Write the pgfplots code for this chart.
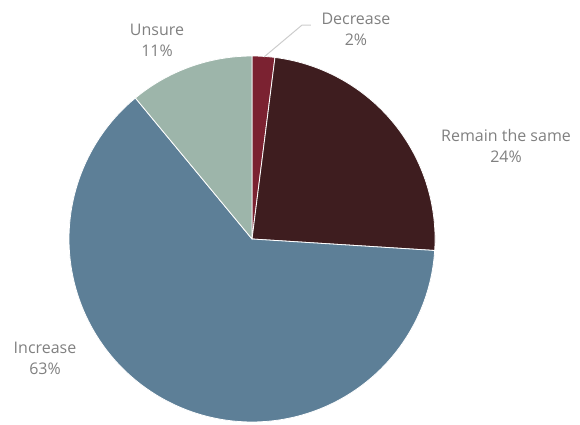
\documentclass[border=0pt]{standalone}
\usepackage{pgfplots}
\pgfplotsset{compat=1.18}
\usepackage{fontspec}
\setmainfont{Open Sans}
\definecolor{cDec}{HTML}{7B2231}
\definecolor{cRem}{HTML}{3E1D1F}
\definecolor{cInc}{HTML}{5D7F97}
\definecolor{cUns}{HTML}{9DB5AA}
\definecolor{txt}{HTML}{808080}
\definecolor{lead}{HTML}{CCCCCC}
% shares (percent), clockwise from 12 o'clock
\def\pDec{2}\def\pRem{24}\def\pInc{63}\def\pUns{11}
\tikzset{lbl/.style={font=\fontsize{16}{21}\selectfont, text=txt, align=center, inner sep=0pt}}
\begin{document}
\begin{tikzpicture}
\pgfmathsetmacro\aA{90}
\pgfmathsetmacro\aB{\aA-3.6*\pDec}
\pgfmathsetmacro\aC{\aB-3.6*\pRem}
\pgfmathsetmacro\aD{\aC-3.6*\pInc}
\pgfmathsetmacro\aE{\aD-3.6*\pUns}
\begin{axis}[
  hide axis, scale only axis,
  width=580pt, height=424pt,
  xmin=-1.377, xmax=1.792, ymin=-1.011, ymax=1.306,
  clip=false,
]
\path (rel axis cs:0,0) rectangle (rel axis cs:1,1);
\addplot[fill=cDec, draw=white, line width=0.8pt, domain=\aB:\aA, samples=20, smooth] ({cos(x)},{sin(x)}) -- (0,0) -- cycle;
\addplot[fill=cRem, draw=white, line width=0.8pt, domain=\aC:\aB, samples=60, smooth] ({cos(x)},{sin(x)}) -- (0,0) -- cycle;
\addplot[fill=cInc, draw=white, line width=0.8pt, domain=\aD:\aC, samples=120, smooth] ({cos(x)},{sin(x)}) -- (0,0) -- cycle;
\addplot[fill=cUns, draw=white, line width=0.8pt, domain=\aE:\aD, samples=30, smooth] ({cos(x)},{sin(x)}) -- (0,0) -- cycle;
\addplot[lead, line width=1pt] coordinates {(0.066,0.995) (0.273,1.169) (0.322,1.169)};
\node[lbl] at (0.568,1.148) {Decrease\\2\%};
\node[lbl] at (1.388,0.508) {Remain the same\\24\%};
\node[lbl] at (-1.131,-0.650) {Increase\\63\%};
\node[lbl] at (-0.519,1.087) {Unsure\\11\%};
\end{axis}
\end{tikzpicture}
\end{document}
